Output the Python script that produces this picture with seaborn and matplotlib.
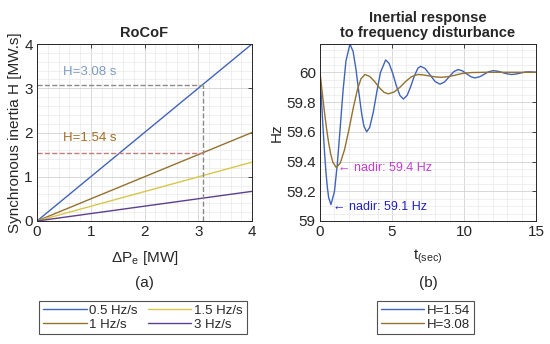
import numpy as np
import pandas as pd
import matplotlib
matplotlib.use("Agg")
import matplotlib.pyplot as plt
from matplotlib.ticker import MultipleLocator, FormatStrFormatter
from matplotlib.lines import Line2D
import seaborn as sns

# ---------------- data ----------------
delta_p = [0, 4]
rocof_labels = ["0.5 Hz/s", "1 Hz/s", "1.5 Hz/s", "3 Hz/s"]
h_05 = [0, 4.0]
h_1 = [0, 2.0]
h_15 = [0, 1.33]
h_3 = [0, 0.67]

h_marks = [3.08, 1.54]
p_mark = 3.08

t_h154 = [0, 0.1, 0.2, 0.3, 0.4, 0.5, 0.6, 0.76, 1.0, 1.2, 1.4, 1.6, 1.8, 2.08,
          2.3, 2.5, 2.7, 2.9, 3.05, 3.24, 3.45, 3.7, 3.95, 4.2, 4.56, 4.8, 5.05,
          5.3, 5.55, 5.79, 6.05, 6.3, 6.55, 6.8, 6.99, 7.3, 7.65, 8.0, 8.33, 8.65,
          8.95, 9.3, 9.6, 9.9, 10.2, 10.5, 10.76, 11.1, 11.4, 11.7, 12.04, 12.35,
          12.67, 13.0, 13.3, 13.6, 13.95, 14.3, 14.6, 15.0]
f_h154 = [60.0, 59.817, 59.643, 59.483, 59.345, 59.235, 59.158, 59.11, 59.196,
          59.38, 59.624, 59.875, 60.074, 60.19, 60.139, 60.019, 59.863, 59.717,
          59.638, 59.60, 59.629, 59.731, 59.870, 59.999, 60.083, 60.059, 59.993,
          59.910, 59.844, 59.82, 59.844, 59.904, 59.975, 60.027, 60.04, 60.025,
          59.981, 59.937, 59.92, 59.935, 59.967, 60.005, 60.018, 60.009, 59.988,
          59.969, 59.962, 59.970, 59.9865, 60.003, 60.011, 60.007, 59.998, 59.989,
          59.985, 59.988, 59.995, 60.002, 60.003, 60.0]

t_h308 = [0, 0.15, 0.3, 0.45, 0.6, 0.75, 0.9, 1.13, 1.4, 1.7, 2.0, 2.3, 2.6, 2.85,
          3.125, 3.45, 3.8, 4.15, 4.45, 4.74, 5.15, 5.55, 5.95, 6.35, 6.8, 7.2,
          7.6, 8.0, 8.4, 8.9, 9.4, 9.9, 10.5, 11.5, 13.0, 15.0]
f_h308 = [60.0, 59.867, 59.741, 59.625, 59.526, 59.447, 59.393, 59.36, 59.388,
          59.478, 59.61, 59.756, 59.884, 59.957, 59.985, 59.972, 59.937, 59.893,
          59.865, 59.855, 59.867, 59.899, 59.938, 59.970, 59.985, 59.982, 59.975,
          59.969, 59.966, 59.970, 59.981, 59.992, 59.998, 60.0, 60.0, 60.0]

resp_labels = ["H=1.54", "H=3.08"]

# ---------------- style ----------------
sns.set_theme(style="white")
plt.rcParams["font.family"] = ["Liberation Sans", "DejaVu Sans"]
plt.rcParams["mathtext.fontset"] = "custom"
plt.rcParams["mathtext.rm"] = "Liberation Sans"
plt.rcParams["mathtext.it"] = "Liberation Sans:italic"

c_blue = "#4164B8"
c_brown = "#94712E"
c_yellow = "#D8C64A"
c_purple = "#5E3F8E"

fig = plt.figure(figsize=(5.5, 3.44), dpi=100)
W, H = 550, 344
def rect(x0, y0, x1, y1):
    return [x0 / W, 1 - y1 / H, (x1 - x0) / W, (y1 - y0) / H]

ax1 = fig.add_axes(rect(37, 44, 252, 221))
ax2 = fig.add_axes(rect(320, 44, 536, 221))

def style_axes(ax):
    ax.grid(True, which="major", color="#d2d2d2", linewidth=0.6)
    ax.grid(True, which="minor", color="#e9e9e9", linewidth=0.5)
    ax.set_axisbelow(True)
    ax.tick_params(which="both", direction="in", top=True, right=True,
                   labelsize=11, colors="#262626", pad=3)
    ax.tick_params(which="major", length=3, width=0.6)
    ax.tick_params(which="minor", length=0)
    for s in ax.spines.values():
        s.set_color("#262626")
        s.set_linewidth(0.7)

# ---------------- left: RoCoF ----------------
df1 = pd.DataFrame({
    "dP": delta_p * 4,
    "H": h_05 + h_1 + h_15 + h_3,
    "rate": [r for r in rocof_labels for _ in delta_p],
})
sns.lineplot(data=df1, x="dP", y="H", hue="rate", hue_order=rocof_labels,
             palette=[c_blue, c_brown, c_yellow, c_purple], linewidth=1.0,
             ax=ax1, legend=False)
ax1.plot([0, p_mark], [h_marks[0], h_marks[0]], ls="--", color="#8a8a8a", lw=1.0)
ax1.plot([p_mark, p_mark], [0, h_marks[0]], ls="--", color="#8a8a8a", lw=1.0)
ax1.plot([0, p_mark], [h_marks[1], h_marks[1]], ls="--", color="#c77a7a", lw=1.0)
ax1.text(0.48, 3.37, "H=3.08 s", color="#7d9cc0", fontsize=9.5, va="center")
ax1.text(0.48, 1.88, "H=1.54 s", color="#a06e26", fontsize=9.5, va="center")
ax1.set_xlim(0, 4)
ax1.set_ylim(0, 4)
ax1.xaxis.set_major_locator(MultipleLocator(1))
ax1.yaxis.set_major_locator(MultipleLocator(1))
ax1.xaxis.set_minor_locator(MultipleLocator(0.2))
ax1.yaxis.set_minor_locator(MultipleLocator(0.2))
style_axes(ax1)
ax1.set_title("RoCoF", fontsize=10.5, fontweight="bold", pad=5)
ax1.set_xlabel(r"$\Delta$P$_\mathrm{e}$ [MW]", fontsize=11, labelpad=7)
ax1.set_ylabel("Synchronous inertia H [MW.s]", fontsize=11, labelpad=2)

# ---------------- right: response ----------------
df2 = pd.DataFrame({
    "t": t_h154 + t_h308,
    "f": f_h154 + f_h308,
    "case": [resp_labels[0]] * len(t_h154) + [resp_labels[1]] * len(t_h308),
})
sns.lineplot(data=df2, x="t", y="f", hue="case", hue_order=resp_labels,
             palette=[c_blue, c_brown], linewidth=1.0, ax=ax2, legend=False,
             sort=False)
ax2.text(1.22, 59.354, "\u2190 nadir: 59.4 Hz", color="#c040cc", fontsize=9,
         va="center")
ax2.text(0.9, 59.094, "\u2190 nadir: 59.1 Hz", color="#2222bb", fontsize=9,
         va="center")
ax2.set_xlim(0, 15)
ax2.set_ylim(59, 60.19)
ax2.xaxis.set_major_locator(MultipleLocator(5))
ax2.xaxis.set_minor_locator(MultipleLocator(1))
ax2.yaxis.set_major_locator(MultipleLocator(0.2))
ax2.yaxis.set_minor_locator(MultipleLocator(0.05))
ax2.yaxis.set_major_formatter(FormatStrFormatter("%g"))
style_axes(ax2)
ax2.set_title("Inertial response\nto frequency disturbance", fontsize=10.5,
              fontweight="bold", pad=5, linespacing=1.1)
ax2.set_xlabel(r"t$_\mathrm{(sec)}$", fontsize=11, labelpad=6)
ax2.set_ylabel("Hz", fontsize=11, labelpad=2)

fig.text(144.5 / W, 1 - 283 / H, "(a)", ha="center", va="center", fontsize=11,
         color="#262626")
fig.text(428 / W, 1 - 283 / H, "(b)", ha="center", va="center", fontsize=11,
         color="#262626")

# ---------------- legends ----------------
h1 = [Line2D([], [], color=c, lw=1.0) for c in [c_blue, c_brown, c_yellow, c_purple]]
leg1 = fig.legend(h1, rocof_labels, ncol=2, loc="center",
                  bbox_to_anchor=(143 / W, 1 - 317.5 / H), fontsize=9.5,
                  frameon=True, fancybox=False, edgecolor="#262626",
                  handlelength=3.3, handletextpad=0.2, columnspacing=0.75,
                  borderpad=0.3, labelspacing=0.12, borderaxespad=0)
leg1.get_frame().set_linewidth(0.8)
h2 = [Line2D([], [], color=c, lw=1.0) for c in [c_blue, c_brown]]
leg2 = fig.legend(h2, resp_labels, ncol=1, loc="center",
                  bbox_to_anchor=(425.5 / W, 1 - 317.5 / H), fontsize=9.5,
                  frameon=True, fancybox=False, edgecolor="#262626",
                  handlelength=3.3, handletextpad=0.2,
                  borderpad=0.3, labelspacing=0.12, borderaxespad=0)
leg2.get_frame().set_linewidth(0.8)

fig.savefig("out.png", dpi=100)
